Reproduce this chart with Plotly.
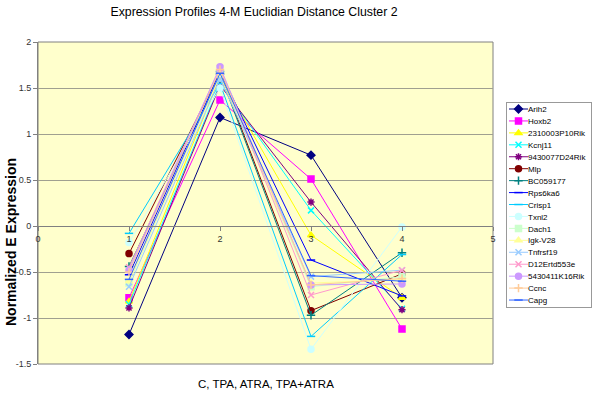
import plotly.graph_objects as go

x_vals = [1, 2, 3, 4]

series_names = ["Arih2", "Hoxb2", "2310003P10Rik", "Kcnj11", "9430077D24Rik", "Mlp",
                "BC059177", "Rps6ka6", "Crisp1", "Txnl2", "Dach1", "Igk-V28",
                "Tnfrsf19", "D12Ertd553e", "5430411K16Rik", "Ccnc", "Capg"]

arih2 = [-1.18, 1.18, 0.77, -0.78]
hoxb2 = [-0.78, 1.37, 0.51, -1.12]
r2310003p10rik = [-0.82, 1.62, -0.10, -0.78]
kcnj11 = [-0.85, 1.55, 0.17, -0.90]
r9430077d24rik = [-0.89, 1.53, 0.26, -0.91]
mlp = [-0.30, 1.67, -0.92, -0.52]
bc059177 = [-0.44, 1.65, -0.97, -0.29]
rps6ka6 = [-0.53, 1.68, -0.37, -0.76]
crisp1 = [-0.08, 1.55, -1.20, -0.31]
txnl2 = [-0.18, 1.50, -1.34, -0.01]
dach1 = [-0.62, 1.66, -0.66, -0.55]
igkv28 = [-0.60, 1.63, -0.62, -0.58]
tnfrsf19 = [-0.66, 1.60, -0.55, -0.48]
d12ertd553e = [-0.45, 1.72, -0.75, -0.48]
r5430411k16rik = [-0.48, 1.73, -0.64, -0.63]
ccnc = [-0.50, 1.70, -0.64, -0.57]
capg = [-0.58, 1.66, -0.54, -0.60]

series_values = [arih2, hoxb2, r2310003p10rik, kcnj11, r9430077d24rik, mlp,
                 bc059177, rps6ka6, crisp1, txnl2, dach1, igkv28,
                 tnfrsf19, d12ertd553e, r5430411k16rik, ccnc, capg]

colors = ["#000080", "#FF00FF", "#FFFF00", "#00FFFF", "#800080", "#800000",
          "#008080", "#0000FF", "#00CCFF", "#CCFFFF", "#CCFFCC", "#FFFF99",
          "#99CCFF", "#FF99CC", "#CC99FF", "#FFCC99", "#3366FF"]
symbols = ["diamond", "square", "triangle-up", "x-thin-open", "asterisk-open", "circle",
           "cross-thin-open", "line-ew-open", "line-ew-open", "circle", "square", "triangle-up",
           "x-thin-open", "x-thin-open", "circle", "cross-thin-open", "line-ew-open"]

y_ticks = [-1.5, -1, -0.5, 0, 0.5, 1, 1.5, 2]
y_tick_labels = ["-1.5", "-1", "-0.5", "0", "0.5", "1", "1.5", "2"]
x_ticks = [0, 1, 2, 3, 4, 5]
x_tick_labels = ["0", "1", "2", "3", "4", "5"]

fig = go.Figure()
for name, vals, col, sym in zip(series_names, series_values, colors, symbols):
    fig.add_trace(go.Scatter(
        x=x_vals, y=vals, name=name, mode="lines+markers",
        line=dict(color=col, width=1),
        marker=dict(symbol=sym, size=6, color=col, line=dict(color=col, width=1.5)),
    ))

font = "Liberation Sans, Arial, sans-serif"
ymin, ymax = -1.5, 2
fig.update_layout(
    width=600, height=406,
    margin=dict(l=38, r=107, t=42, b=42, autoexpand=False),
    paper_bgcolor="white",
    plot_bgcolor="#FFFFCC",
    font=dict(family=font, size=9, color="#000000"),
    title=dict(text="Expression Profiles 4-M Euclidian Distance Cluster 2",
               x=254 / 600, xanchor="center", y=1 - 12 / 406, yanchor="middle",
               font=dict(size=12.3, family=font, color="black")),
    showlegend=True,
    legend=dict(x=1.0286, xanchor="left", y=0.82, yanchor="top",
                bgcolor="white", bordercolor="#999999", borderwidth=1,
                font=dict(size=8, family=font), tracegroupgap=0,
                itemwidth=30, maxheight=2000),
    xaxis=dict(range=[0, 5], tickvals=x_ticks, ticktext=x_tick_labels,
               anchor="free", position=(0 - ymin) / (ymax - ymin),
               showgrid=False, zeroline=False, showline=True, linecolor="#808080",
               linewidth=1, ticks="outside", ticklen=4, tickcolor="#808080",
               tickfont=dict(size=9, color="#333333")),
    yaxis=dict(range=[ymin, ymax], tickvals=y_ticks, ticktext=y_tick_labels,
               showgrid=True, gridcolor="#A0A090", gridwidth=1, zeroline=False,
               showline=True, linecolor="#808080", linewidth=1,
               ticks="outside", ticklen=4, tickcolor="#808080",
               tickfont=dict(size=9, color="#333333")),
    annotations=[
        dict(text="C, TPA, ATRA, TPA+ATRA", xref="paper", yref="paper",
             x=(266 - 38) / 455, y=-(384 - 364) / 322, xanchor="center", yanchor="middle",
             showarrow=False, font=dict(size=11.5, family=font)),
        dict(text="<b>Normalized E Expression</b>", xref="paper", yref="paper",
             x=-(38 - 11) / 455, y=(364 - 242) / 322, xanchor="center", yanchor="middle",
             textangle=-90, showarrow=False, font=dict(size=14, family=font)),
    ],
    shapes=[
        dict(type="rect", xref="paper", yref="paper", x0=0, x1=1, y0=0, y1=1,
             line=dict(color="#808080", width=1), layer="below"),
    ],
)

post_js = """
(function(){
  document.documentElement.style.margin = '0';
  document.body.style.margin = '0';
  document.body.style.padding = '0';
  document.body.style.overflow = 'hidden';
  var gd = document.getElementById('{plot_id}');
  function fix(){
    var leg = gd.querySelector('g.legend');
    if(!leg) return;
    leg.querySelectorAll('[clip-path]').forEach(function(e){ e.removeAttribute('clip-path'); });
    var items = leg.querySelectorAll('g.traces');
    var step = 11.94, top = 7;
    items.forEach(function(t, i){
      t.setAttribute('transform', 'translate(0,' + (top + i*step) + ')');
      t.querySelectorAll('path.js-line').forEach(function(p){ p.setAttribute('d', 'M3,0h19'); });
      t.querySelectorAll('path.scatterpts').forEach(function(p){ p.setAttribute('transform', 'translate(12.5,0)'); });
      t.querySelectorAll('text.legendtext').forEach(function(p){ p.setAttribute('x', '22'); });
      t.querySelectorAll('rect.legendtoggle').forEach(function(r){ r.setAttribute('height', step); r.setAttribute('y', -step/2); });
    });
    var h = 2*top + (items.length - 1)*step;
    leg.querySelectorAll('rect.bg').forEach(function(r){ r.setAttribute('height', h); r.setAttribute('width', 85); });
    leg.setAttribute('transform', 'translate(506,102)');
  }
  fix();
  gd.on('plotly_afterplot', fix);
})();
"""

fig.write_html("out.html", post_script=post_js, config={"displayModeBar": False})
